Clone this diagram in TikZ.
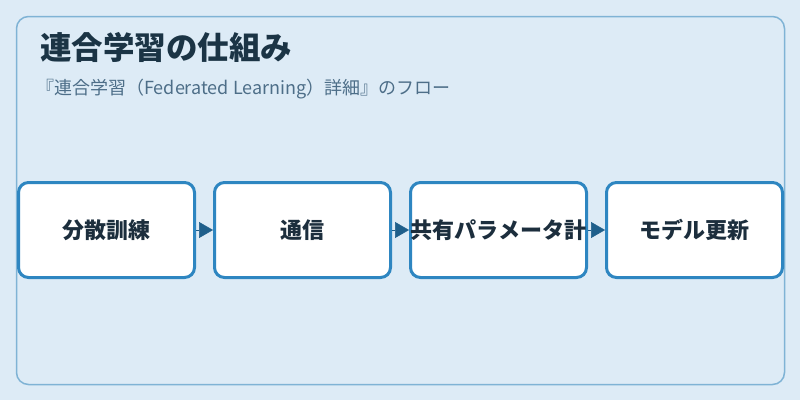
\documentclass[tikz,border=0pt]{standalone}
\usepackage{fontspec}
\setmainfont{Noto Sans CJK JP}
\usetikzlibrary{arrows.meta}
\definecolor{bgc}{HTML}{DDEBF6}
\definecolor{framec}{HTML}{7FB3D5}
\definecolor{boxc}{HTML}{2E86C1}
\definecolor{arrc}{HTML}{1F5F8B}
\definecolor{titlec}{HTML}{1B3445}
\definecolor{subc}{HTML}{4D6E88}
\definecolor{labc}{HTML}{1C2E3D}
\tikzset{
  stepbox/.style={draw=boxc, line width=3pt, fill=white, rounded corners=10pt,
    minimum width=176pt, minimum height=95pt, inner sep=0pt,
    font=\fontsize{22}{25}\selectfont\bfseries, text=labc},
  flowarrow/.style={draw=arrc, line width=0.5pt, -{Triangle[length=14pt,width=16pt]}}
}
\begin{document}
\begin{tikzpicture}[x=1pt,y=-1pt]
\useasboundingbox (0,0) rectangle (800,400);
\fill[bgc] (0,0) rectangle (800,400);
\draw[framec, line width=1.5pt, rounded corners=12pt] (16.5,16.5) rectangle (784.5,384.5);
\node[anchor=west, inner sep=0pt, text=titlec, font=\fontsize{31.5}{34}\selectfont\bfseries] (title) at (40,47.5) {連合学習の仕組み};
\node[anchor=west, inner sep=0pt, text=subc, font=\fontsize{18}{21}\selectfont] (sub) at (36,89.5) {『連合学習（Federated Learning）詳細』のフロー};
\node[stepbox] (b1) at (106.5,230) {分散訓練};
\node[stepbox] (b2) at (302.5,230) {通信};
\node[stepbox] (b3) at (498.5,230) {共有パラメータ計};
\node[stepbox] (b4) at (694.5,230) {モデル更新};
\draw[flowarrow] (b1.east) -- (b2.west);
\draw[flowarrow] (b2.east) -- (b3.west);
\draw[flowarrow] (b3.east) -- (b4.west);
\end{tikzpicture}
\end{document}
